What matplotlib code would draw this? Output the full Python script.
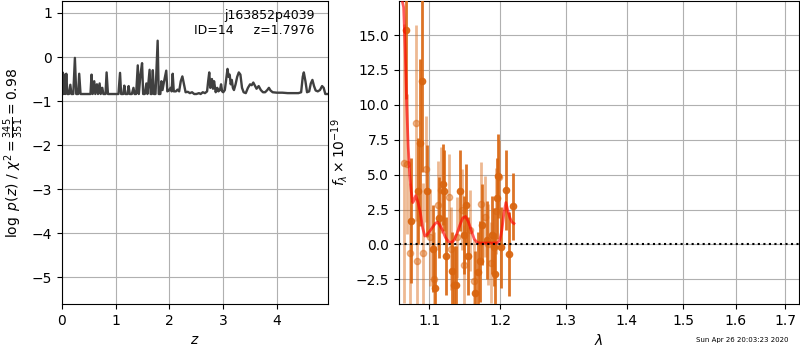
import numpy as np
import matplotlib
matplotlib.use('Agg')
import matplotlib.pyplot as plt
from matplotlib.ticker import FixedLocator, ScalarFormatter, NullLocator

# p(z) curve
z = [0.00, 0.01, 0.03, 0.045, 0.06, 0.08, 0.10, 0.13, 0.155, 0.175, 0.21, 0.24, 0.265, 0.30,
     0.32, 0.345, 0.40, 0.45, 0.50, 0.53, 0.55, 0.57, 0.60, 0.62, 0.65, 0.67, 0.70, 0.72,
     0.75, 0.77, 0.81, 0.83, 0.855, 0.90, 0.95, 1.00, 1.05, 1.08, 1.10, 1.14, 1.16, 1.18,
     1.22, 1.24, 1.26, 1.30, 1.33, 1.35, 1.38, 1.41, 1.43, 1.46, 1.49, 1.51, 1.54, 1.57,
     1.59, 1.63, 1.65, 1.67, 1.69, 1.71, 1.74, 1.78, 1.80, 1.83, 1.85, 1.87, 1.90, 1.94,
     1.96, 1.99, 2.02, 2.04, 2.06, 2.08, 2.12, 2.15, 2.18, 2.21, 2.24, 2.27, 2.30, 2.34,
     2.38, 2.42, 2.46, 2.50, 2.55, 2.58, 2.62, 2.66, 2.70, 2.72, 2.74, 2.76, 2.79, 2.81,
     2.83, 2.86, 2.89, 2.91, 2.94, 2.96, 2.98, 3.00, 3.03, 3.06, 3.08, 3.10, 3.12, 3.14,
     3.16, 3.18, 3.20, 3.23, 3.26, 3.29, 3.32, 3.35, 3.38, 3.42, 3.46, 3.50, 3.53, 3.56,
     3.59, 3.62, 3.66, 3.70, 3.74, 3.78, 3.82, 3.85, 3.88, 3.92, 4.00, 4.10, 4.20, 4.30,
     4.40, 4.45, 4.48, 4.50, 4.53, 4.56, 4.60, 4.63, 4.66, 4.69, 4.72, 4.76, 4.80, 4.84,
     4.87, 4.90, 4.95]
logpz = [-0.84, -0.35, -0.84, -0.40, -0.84, -0.38, -0.84, -0.84, -0.63, -0.84, -0.84, -0.02, -0.84, -0.84,
         -0.38, -0.84, -0.84, -0.84, -0.84, -0.84, -0.40, -0.84, -0.55, -0.84, -0.62, -0.84, -0.60, -0.84,
         -0.70, -0.84, -0.84, -0.35, -0.84, -0.84, -0.84, -0.84, -0.84, -0.36, -0.84, -0.84, -0.65, -0.84,
         -0.84, -0.66, -0.84, -0.84, -0.70, -0.84, -0.84, -0.19, -0.84, -0.40, -0.14, -0.84, -0.84, -0.60,
         -0.84, -0.29, -0.84, -0.84, -0.30, -0.84, -0.84, 0.37, -0.84, -0.84, -0.55, -0.75, -0.55, -0.31,
         -0.78, -0.76, -0.70, -0.78, -0.38, -0.78, -0.78, -0.74, -0.78, -0.55, -0.44, -0.62, -0.80, -0.79,
         -0.82, -0.80, -0.84, -0.84, -0.82, -0.84, -0.80, -0.82, -0.78, -0.55, -0.35, -0.70, -0.50, -0.72,
         -0.55, -0.80, -0.70, -0.78, -0.75, -0.62, -0.78, -0.80, -0.75, -0.45, -0.27, -0.45, -0.40, -0.62,
         -0.52, -0.70, -0.75, -0.62, -0.45, -0.35, -0.40, -0.70, -0.80, -0.82, -0.70, -0.62, -0.64, -0.58,
         -0.65, -0.72, -0.66, -0.75, -0.80, -0.80, -0.75, -0.70, -0.76, -0.80, -0.81, -0.81, -0.82, -0.82,
         -0.82, -0.80, -0.45, -0.35, -0.55, -0.80, -0.78, -0.60, -0.52, -0.66, -0.76, -0.78, -0.75, -0.66,
         -0.70, -0.84, -0.84]

# spectrum, beam 1 (solid) and beam 2 (faint)
wave1 = [1.0691, 1.0757, 1.0853, 1.0875, 1.0897, 1.0970, 1.1055, 1.1083, 1.1133, 1.1184, 1.1198,
         1.1230, 1.1313, 1.1340, 1.1360, 1.1425, 1.1480, 1.1498, 1.1539, 1.1638, 1.1676, 1.1699,
         1.1733, 1.1804, 1.1876, 1.1899, 1.1914, 1.1949, 1.1963, 1.2011, 1.2080, 1.2125, 1.2184]
flux1 = [15.4, 1.7, 3.85, 7.3, 11.7, 3.8, -0.3, -3.1, 1.9, 4.3, 3.85,
         -0.8, -1.9, -2.9, -2.9, 3.85, 0.7, 2.85, -0.8, -3.5, -2.0, -1.2,
         1.4, 0.3, 0.7, -0.2, -2.1, 3.3, 4.9, -0.2, 3.9, -0.7, 2.75]
err1 = [5.0, 4.5, 3.8, 6.0, 6.5, 3.3, 3.1, 3.0, 2.9, 2.9, 2.9,
        2.8, 2.8, 2.8, 2.8, 2.9, 2.8, 2.9, 2.8, 3.0, 2.9, 2.9,
        2.9, 2.8, 2.8, 2.8, 2.9, 2.9, 3.0, 2.9, 2.9, 3.0, 2.4]

wave2 = [1.0670, 1.0708, 1.0740, 1.0825, 1.0840, 1.0920, 1.0950, 1.1010, 1.1060, 1.1120, 1.1160,
         1.1271, 1.1300, 1.1380, 1.1452, 1.1470, 1.1560, 1.1620, 1.1720, 1.1770, 1.1823, 1.1860,
         1.1930, 1.1980]
flux2 = [5.8, 5.75, -0.6, 8.7, -1.2, -0.6, 5.4, 0.5, -2.5, 2.8, 3.9,
         3.4, -0.3, 0.5, 2.5, -1.5, 1.0, -2.6, 2.9, 2.0, 0.0, -1.3,
         2.4, 4.8]
err2 = [10.0, 5.0, 5.0, 7.0, 4.5, 5.0, 3.8, 3.5, 3.4, 3.2, 3.1,
        3.1, 3.0, 2.9, 2.9, 2.9, 2.9, 3.0, 3.0, 2.9, 2.9, 2.9,
        3.1, 2.7]

# best-fit model
mwave = [1.064, 1.066, 1.068, 1.070, 1.072, 1.074, 1.076, 1.078, 1.080, 1.082, 1.085, 1.088,
         1.091, 1.094, 1.097, 1.100, 1.104, 1.108, 1.111, 1.114, 1.118, 1.122, 1.126, 1.130,
         1.134, 1.138, 1.142, 1.146, 1.150, 1.154, 1.158, 1.162, 1.166, 1.170, 1.175, 1.180,
         1.185, 1.190, 1.195, 1.199, 1.202, 1.205, 1.208, 1.211, 1.214, 1.217, 1.220]
mflux = [17.5, 17.0, 14.0, 10.0, 7.0, 5.0, 3.8, 3.0, 3.2, 3.5, 3.0, 2.3,
         1.2, 0.6, 0.7, 0.9, 1.2, 1.5, 1.6, 1.4, 1.0, 0.5, 0.2, 0.15,
         0.3, 0.8, 1.4, 1.9, 2.0, 1.6, 1.0, 0.4, 0.15, 0.1, 0.1, 0.1,
         0.1, 0.1, 0.1, 0.3, 1.0, 2.2, 3.0, 2.4, 1.9, 1.6, 1.5]

xticks_lam = [1.1, 1.2, 1.3, 1.4, 1.5, 1.6, 1.7]
orange = '#d9650f'

fig = plt.figure(figsize=(8, 3.5), dpi=100)
ax = fig.add_axes([0.0775, 0.131, 0.3325, 0.866])
ax.plot(z, logpz, color='0.25', lw=1.7)
ax.set_xlim(0, 4.95)
ax.set_ylim(-5.61, 1.27)
ax.grid()
ax.set_xlabel(r'$z$')
ax.set_ylabel(r'$\log\ p(z)$ / $\chi^2=\frac{345}{351}=0.98$')
ax.text(0.95, 0.975, 'j163852p4039\nID=14     z=1.7976', transform=ax.transAxes,
        ha='right', va='top', fontsize=9)

ax2 = fig.add_axes([0.49875, 0.131, 0.5, 0.866])
ax2.errorbar(wave2, flux2, yerr=err2, fmt='o', color=orange, alpha=0.45,
             ms=4.5, elinewidth=2, zorder=2)
ax2.errorbar(wave1, flux1, yerr=err1, fmt='o', color=orange, alpha=0.9,
             ms=4.5, elinewidth=2, zorder=3)
ax2.plot(mwave, mflux, color='red', lw=2, alpha=0.65, zorder=4)
ax2.axhline(0, color='k', ls=':', lw=1.5, zorder=5)
ax2.set_xscale('log')
ax2.xaxis.set_major_locator(FixedLocator(xticks_lam))
ax2.xaxis.set_major_formatter(ScalarFormatter())
ax2.xaxis.set_minor_locator(NullLocator())
ax2.set_xlim(1.060, 1.7287)
ax2.set_ylim(-4.28, 17.44)
ax2.grid()
ax2.set_xlabel(r'$\lambda$')
ax2.set_ylabel(r'$f_\lambda\times10^{-19}$')

fig.text(0.985, 0.02, 'Sun Apr 26 20:03:23 2020', ha='right', va='bottom', fontsize=5)

fig.savefig('out.png', dpi=100)
